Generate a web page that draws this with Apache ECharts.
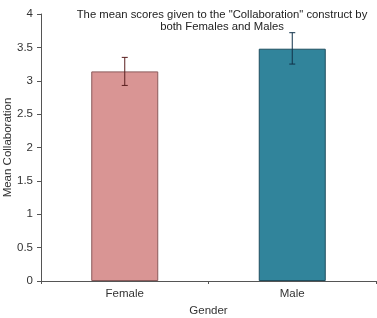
<!DOCTYPE html>
<html>
<head>
<meta charset="utf-8">
<script src="https://cdn.jsdelivr.net/npm/echarts@6/dist/echarts.min.js"></script>
<style>
  html, body { margin: 0; padding: 0; background: #fff; }
  #chart { width: 377px; height: 318px; }
</style>
</head>
<body>
<div id="chart"></div>
<script>
const categories = ['Female', 'Male'];
const means = [3.14, 3.48];
const errLow = [2.93, 3.25];
const errHigh = [3.35, 3.72];
const yTicks = ['0', '0.5', '1', '1.5', '2', '2.5', '3', '3.5', '4'];

const fills = ['#d99594', '#31849b'];
const borders = ['#8a5a5a', '#1f4e5f'];
const errColors = ['#5a1f1f', '#10324a'];

const chart = echarts.init(document.getElementById('chart'));

const font = 'Liberation Sans, Arial, sans-serif';

chart.setOption({
  animation: false,
  title: {
    text: 'The mean scores given to the "Collaboration" construct by\nboth Females and Males',
    left: 217,
    top: 4,
    textAlign: 'center',
    textStyle: { fontSize: 11.3, fontWeight: 'normal', color: '#222', fontFamily: font, lineHeight: 12 }
  },
  grid: { left: 41, right: 1, top: 14, bottom: 37, outerBoundsMode: 'none' },
  xAxis: {
    type: 'category',
    data: categories,
    name: 'Gender',
    nameLocation: 'middle',
    nameGap: 24,
    nameMoveOverlap: false,
    nameTextStyle: { fontSize: 11.5, color: '#333', fontFamily: font },
    axisLine: { lineStyle: { color: '#555' } },
    axisTick: { show: true, length: 3, lineStyle: { color: '#555' } },
    axisLabel: { fontSize: 11.5, color: '#333', fontFamily: font, margin: 7 }
  },
  yAxis: {
    type: 'value',
    min: 0,
    max: 4,
    interval: 0.5,
    name: 'Mean Collaboration',
    nameLocation: 'middle',
    nameGap: 27,
    nameMoveOverlap: false,
    nameTextStyle: { fontSize: 11.5, color: '#333', fontFamily: font },
    splitLine: { show: false },
    axisLine: { show: true, lineStyle: { color: '#555' } },
    axisTick: { show: true, length: 4, lineStyle: { color: '#555' } },
    axisLabel: {
      fontSize: 11.5, color: '#333', fontFamily: font, margin: 8,
      formatter: (v) => yTicks[Math.round(v / 0.5)]
    }
  },
  series: [
    {
      type: 'bar',
      barWidth: '40%',
      data: means.map((v, i) => ({
        value: v,
        itemStyle: { color: fills[i], borderColor: borders[i], borderWidth: 1 }
      }))
    },
    {
      type: 'custom',
      data: categories.map((c, i) => [i, errLow[i], errHigh[i]]),
      renderItem: (params, api) => {
        const i = api.value(0);
        const lo = api.coord([i, api.value(1)]);
        const hi = api.coord([i, api.value(2)]);
        const hw = 3;
        const style = { stroke: errColors[params.dataIndex], lineWidth: 1 };
        return {
          type: 'group',
          children: [
            { type: 'line', shape: { x1: hi[0], y1: hi[1], x2: lo[0], y2: lo[1] }, style },
            { type: 'line', shape: { x1: hi[0] - hw, y1: hi[1], x2: hi[0] + hw, y2: hi[1] }, style },
            { type: 'line', shape: { x1: lo[0] - hw, y1: lo[1], x2: lo[0] + hw, y2: lo[1] }, style }
          ]
        };
      },
      z: 10
    }
  ]
});
</script>
</body>
</html>
